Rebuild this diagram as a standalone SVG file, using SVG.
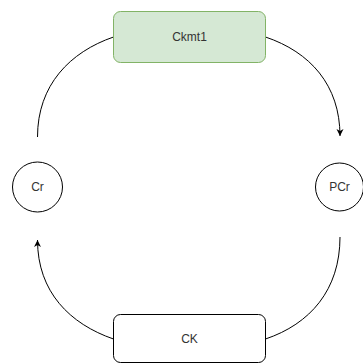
<svg xmlns="http://www.w3.org/2000/svg" width="363" height="364" viewBox="0 0 363 364">
<style>
.box{stroke-width:1}
.lbl{font-family:"Liberation Sans",Arial,sans-serif;font-size:12px;fill:#333;text-anchor:middle;dominant-baseline:central}
.edge{fill:none;stroke:#000;stroke-width:1}
</style>
<defs>
<marker id="arr" markerWidth="8" markerHeight="8" refX="7" refY="4" orient="auto" markerUnits="userSpaceOnUse">
<path d="M0,0.5 L7,4 L0,7.5 L2,4 Z" fill="#000"/>
</marker>
</defs>
<rect width="363" height="364" fill="#fff"/>
<g id="connectors">
<path class="edge" d="M37.5,137 C37.5,85 70,52 113.5,37"/>
<path class="edge" d="M265.5,37 C310,52 340,85 340,136" marker-end="url(#arr)"/>
<path class="edge" d="M113.5,339 C70,324 37.5,292 37.5,240" marker-end="url(#arr)"/>
<path class="edge" d="M340,237 C340,290 310,324 265.5,339"/>
</g>
<g id="ckmt1">
<rect class="box" x="113.5" y="11.5" width="152" height="51" rx="7" fill="#d5e8d4" stroke="#82b366"/>
<text class="lbl" x="189.5" y="37">Ckmt1</text>
</g>
<g id="ck">
<rect class="box" x="113.5" y="314.5" width="152" height="48" rx="7" fill="#fff" stroke="#000"/>
<text class="lbl" x="189.5" y="339">CK</text>
</g>
<g id="cr">
<circle cx="37.5" cy="187" r="25" fill="#fff" stroke="#000"/>
<text class="lbl" x="37.5" y="187">Cr</text>
</g>
<g id="pcr">
<circle cx="339.5" cy="187" r="24" fill="#fff" stroke="#000"/>
<text class="lbl" x="339.5" y="187">PCr</text>
</g>
</svg>
